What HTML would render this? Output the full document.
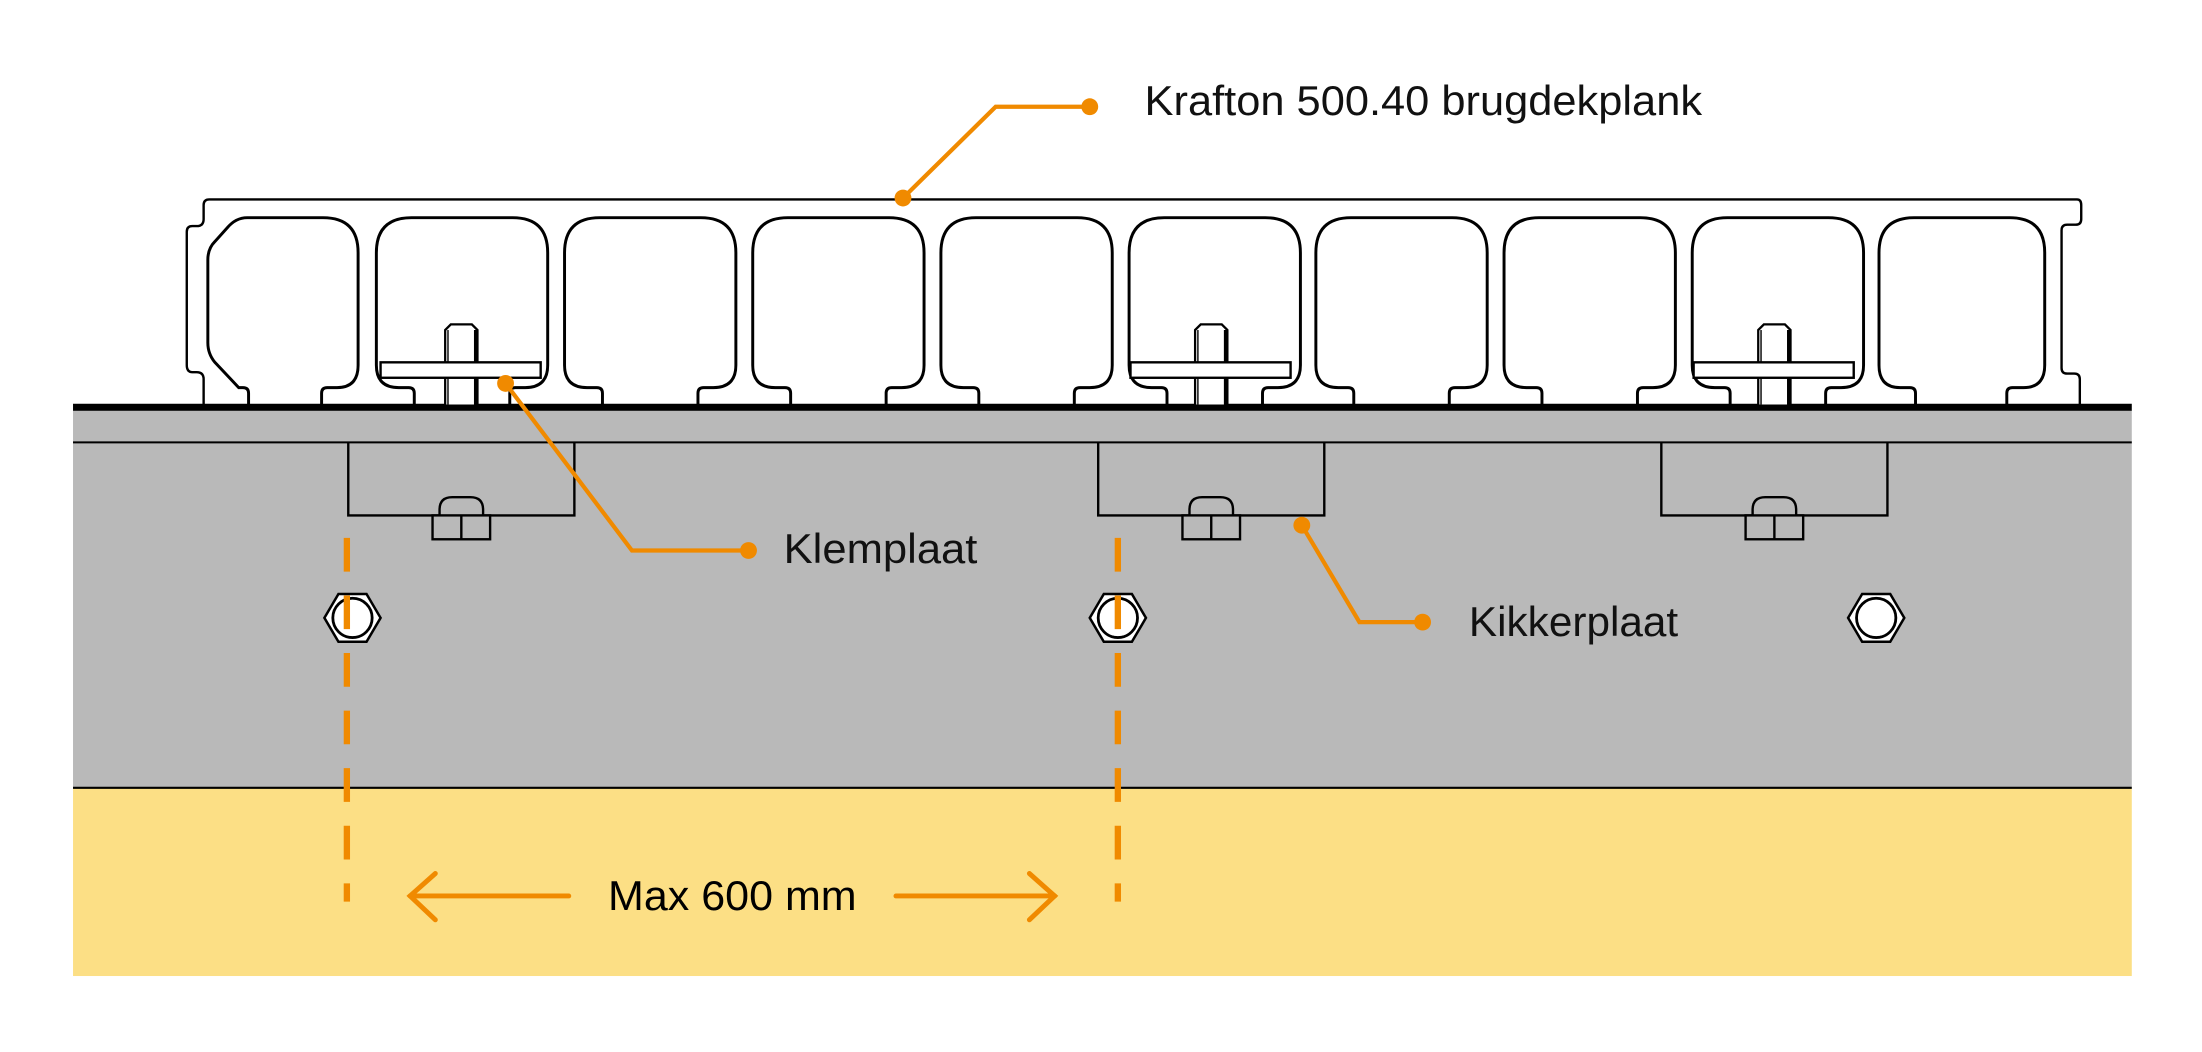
<!DOCTYPE html>
<html><head><meta charset="utf-8"><style>html,body{margin:0;padding:0;background:#fff}svg{display:block}</style></head>
<body>
<svg width="2202" height="1052" viewBox="0 0 1568 749.1" xmlns="http://www.w3.org/2000/svg" font-family="Liberation Sans, sans-serif">
<rect x="52" y="292" width="1466" height="269" fill="#b9b9b9"/>
<rect x="52" y="561" width="1466" height="134" fill="#fcdf85"/>
<line x1="52" y1="561" x2="1518" y2="561" stroke="#000" stroke-width="1.5"/>
<line x1="52" y1="315" x2="1518" y2="315" stroke="#000" stroke-width="1.5"/>
<rect x="52" y="287.5" width="1466" height="5" fill="#000"/>
<path d="M149,142 H1479 Q1482,142 1482,146 V156 Q1482,160 1478,160 H1472 Q1468,160 1468,164 V262 Q1468,266 1472,266 H1477 Q1481,266 1481,270 V288 M149,142 Q145,142 145,146 V156 Q145,161 140,161 H137 Q133,161 133,165 V260 Q133,265 137,265 H140 Q145,265 145,270 V288" fill="none" stroke="#000" stroke-width="1.7"/>
<g fill="none" stroke="#000" stroke-width="2.1">
<path d="M177,288 V280 Q177,276 173,276 H170 L153,258 Q148,252 148,244 V185 Q148,177 153,172 L162,162 Q168,155 176,155 H230 Q255,155 255,180 V260 Q255,276 240,276 H233 Q229,276 229,280 V288"/>
</g>
<g fill="none" stroke="#000" stroke-width="2.1">
<path id="c" d="M295,288 V280 Q295,276 291,276 H284 Q268,276 268,260 V180 Q268,155 293,155 H365 Q390,155 390,180 V260 Q390,276 374,276 H367 Q363,276 363,280 V288"/>
<use href="#c" x="134"/><use href="#c" x="268"/><use href="#c" x="402"/><use href="#c" x="536"/><use href="#c" x="669"/><use href="#c" x="803"/><use href="#c" x="937"/>
<path d="M1364,288 V280 Q1364,276 1360,276 H1353 Q1338,276 1338,260 V180 Q1338,155 1363,155 H1431 Q1456,155 1456,180 V260 Q1456,276 1441,276 H1433 Q1429,276 1429,280 V288"/>
</g>
<g id="clamp" stroke="#000" fill="#fff">
<path d="M317,288 V235 L321,231 H336 L340,235 V288" stroke-width="1.6"/>
<line x1="339" y1="235" x2="339" y2="288" stroke-width="3"/>
<line x1="319" y1="235" x2="319" y2="288" stroke-width="1"/>
<rect x="271" y="258" width="114" height="11" stroke-width="1.7"/>
</g>
<use href="#clamp" x="534"/>
<use href="#clamp" x="935"/>
<g id="frog" fill="none" stroke="#000" stroke-width="1.7">
<path d="M248,315 V367 H409 V315"/>
<path d="M313,367 V363 Q313,354 322,354 H335 Q344,354 344,363 V367" fill="#b9b9b9"/>
<rect x="308" y="367" width="41" height="17" fill="#b9b9b9"/>
<line x1="328.5" y1="367" x2="328.5" y2="384"/>
</g>
<use href="#frog" x="534"/>
<use href="#frog" x="935"/>
<g id="hex">
<polygon points="231,440 241,423 261,423 271,440 261,457 241,457" fill="#fff" stroke="#000" stroke-width="1.8"/>
<circle cx="251" cy="440" r="14" fill="#fff" stroke="#000" stroke-width="2"/>
</g>
<use href="#hex" x="545"/>
<use href="#hex" x="1085"/>
<g stroke="#f08a00" stroke-width="4.5" stroke-dasharray="24 17">
<line x1="247" y1="383" x2="247" y2="642"/>
<line x1="796" y1="383" x2="796" y2="642"/>
</g>
<g stroke="#f08a00" stroke-width="3.5" fill="none" stroke-linecap="round">
<line x1="292" y1="638" x2="405" y2="638"/>
<polyline points="310,622 292,638 310,655"/>
<line x1="638" y1="638" x2="751" y2="638"/>
<polyline points="733,622 751,638 733,655"/>
</g>
<text x="433" y="648" font-size="30" textLength="177" lengthAdjust="spacingAndGlyphs">Max 600 mm</text>
<g stroke="#f08a00" stroke-width="3" fill="none">
<polyline points="643,141 709,76 776,76"/>
<polyline points="360,273 450,392 533,392"/>
<polyline points="927,374 968,443 1013,443"/>
</g>
<g fill="#f08a00">
<circle cx="643" cy="141" r="6"/><circle cx="776" cy="76" r="6"/>
<circle cx="360" cy="273" r="6"/><circle cx="533" cy="392" r="6"/>
<circle cx="927" cy="374" r="6"/><circle cx="1013" cy="443" r="6"/>
</g>
<g font-size="30" fill="#111">
<text x="815" y="82" textLength="397" lengthAdjust="spacingAndGlyphs">Krafton 500.40 brugdekplank</text>
<text x="558" y="401" textLength="138" lengthAdjust="spacingAndGlyphs">Klemplaat</text>
<text x="1046" y="453" textLength="149" lengthAdjust="spacingAndGlyphs">Kikkerplaat</text>
</g>
</svg>
</body></html>
